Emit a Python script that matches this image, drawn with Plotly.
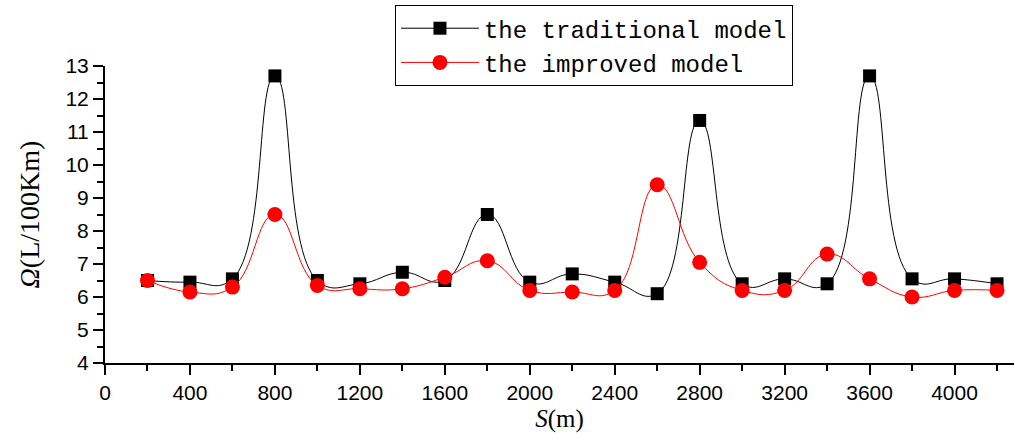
import plotly.graph_objects as go

# Distance along the route (m)
distance = [200, 400, 600, 800, 1000, 1200, 1400, 1600, 1800, 2000, 2200,
            2400, 2600, 2800, 3000, 3200, 3400, 3600, 3800, 4000, 4200]

# Fuel consumption (L/100Km)
traditional = [6.5, 6.45, 6.55, 12.7, 6.5, 6.4, 6.75, 6.5, 8.5, 6.45, 6.7,
               6.45, 6.1, 11.35, 6.4, 6.55, 6.4, 12.7, 6.55, 6.55, 6.4]
improved = [6.5, 6.15, 6.3, 8.5, 6.35, 6.25, 6.25, 6.6, 7.1, 6.2, 6.15,
            6.2, 9.4, 7.05, 6.2, 6.2, 7.3, 6.55, 6.0, 6.2, 6.2]

x_ticks = [0, 400, 800, 1200, 1600, 2000, 2400, 2800, 3200, 3600, 4000]
y_ticks = [4, 5, 6, 7, 8, 9, 10, 11, 12, 13]

fig = go.Figure()
fig.add_trace(go.Scatter(
    x=distance, y=traditional, name="the traditional model",
    mode="lines+markers",
    line=dict(color="black", width=1, shape="spline", smoothing=1.3),
    marker=dict(symbol="square", size=13, color="black"),
    cliponaxis=False,
))
fig.add_trace(go.Scatter(
    x=distance, y=improved, name="the improved model",
    mode="lines+markers",
    line=dict(color="red", width=1, shape="spline", smoothing=1.3),
    marker=dict(symbol="circle", size=15, color="red"),
    cliponaxis=False,
))

axis_font = dict(family="Liberation Sans, Arial, sans-serif", size=21, color="black")
x_title_font = dict(family="Liberation Serif, Times New Roman, serif", size=25, color="black")
y_title_font = dict(family="Liberation Serif, Times New Roman, serif", size=28, color="black")

fig.update_layout(
    width=1014, height=435,
    margin=dict(l=105, r=0, t=66, b=72),
    paper_bgcolor="white", plot_bgcolor="white",
    showlegend=True,
    legend=dict(
        x=0.319, y=1.205, xanchor="left", yanchor="top",
        bordercolor="black", borderwidth=1, bgcolor="white",
        font=dict(family="Liberation Mono, Courier New, monospace", size=24, color="black"),
        itemwidth=78, tracegroupgap=0,
    ),
    xaxis=dict(
        range=[0, 4280], tickvals=x_ticks, ticktext=[str(v) for v in x_ticks],
        ticks="outside", ticklen=10, tickwidth=2, tickcolor="black",
        minor=dict(dtick=200, tick0=0, ticks="outside", ticklen=6, tickwidth=2, tickcolor="black"),
        showline=True, linewidth=2, linecolor="black",
        showgrid=False, zeroline=False,
        tickfont=axis_font,
        title=dict(text="<i>S</i>(m)", font=x_title_font, standoff=6),
    ),
    yaxis=dict(
        range=[4, 13], tickvals=y_ticks, ticktext=[str(v) for v in y_ticks],
        ticks="outside", ticklen=10, tickwidth=2, tickcolor="black",
        minor=dict(dtick=0.5, tick0=4, ticks="outside", ticklen=6, tickwidth=2, tickcolor="black"),
        showline=True, linewidth=2, linecolor="black",
        showgrid=False, zeroline=False,
        tickfont=axis_font,
        title=dict(text="<i>Ω</i>(L/100Km)", font=y_title_font, standoff=18),
    ),
)

fig.write_html("out.html")
